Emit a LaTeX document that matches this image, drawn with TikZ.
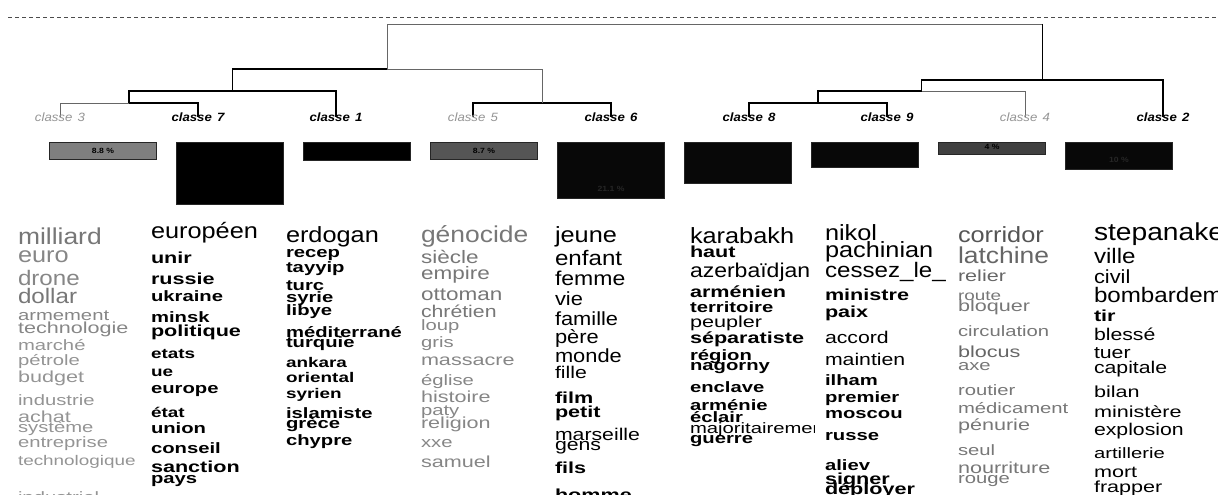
\documentclass[tikz,border=0pt]{standalone}
\usepackage{fontspec}
\setmainfont{Liberation Sans}
\usepackage{graphicx}
\definecolor{kk}{HTML}{000000}
\definecolor{ga}{HTML}{555555}
\definecolor{gb}{HTML}{666666}
\definecolor{gc}{HTML}{777777}
\definecolor{gd}{HTML}{868686}
\definecolor{ge}{HTML}{949494}
\definecolor{bar3}{HTML}{7F7F7F}
\definecolor{bar5}{HTML}{555555}
\definecolor{bar4}{HTML}{404040}
\definecolor{bardark}{HTML}{080808}
\newcommand{\Wrd}[3]{%
  \ifdim#1pt>18.5pt\def\sx{1.15}\else\ifdim#1pt>16.5pt\def\sx{1.25}\else\def\sx{1.35}\fi\fi
  \scalebox{\sx}[1]{\fontsize{#1}{#1}\selectfont\ifnum#2=1 \bfseries\fi #3}}
\newcommand{\Lab}[1]{\scalebox{1.1}[1]{\fontsize{12}{12}\selectfont\itshape #1}}
\newcommand{\Pct}[1]{\scalebox{1.15}[1]{\fontsize{7.5}{7.5}\selectfont\bfseries #1}}
\newcommand{\wcol}[4]{%
  \begin{scope}
    \clip (#2-6,-215) rectangle (#2+#3,-500);
    \foreach \t/\s/\f/\c/\y [count=\i] in {#4} {
      \node[word, text=\c] (#1\i) at (#2,-\y) {\Wrd{\s}{\f}{\t}};
    }
  \end{scope}}
\begin{document}
\begin{tikzpicture}[x=1pt,y=1pt,
  word/.style={anchor=base west, inner sep=0pt, outer sep=0pt},
  tree/.style={line width=1.2pt, black},
  treeg/.style={line width=0.8pt, black!60},
  dashline/.style={line width=0.8pt, black!70, dash pattern=on 4pt off 3pt},
  labk/.style={anchor=base, inner sep=0pt, text=black},
  labg/.style={anchor=base, inner sep=0pt, text=ge},
  barbox/.style={anchor=north, draw=black!85, line width=1pt, minimum width=107pt, inner sep=0pt},
  pct/.style={inner sep=0pt}]
\useasboundingbox (0,0) rectangle (1218,-495);
% dashed top line
\coordinate (dl) at (8,-17);
\coordinate (dr) at (1218,-17);
\draw[dashline] (dl) -- (dr);
% dendrogram
\coordinate (l3) at (60,-117);
\coordinate (l7) at (198,-117);
\coordinate (l1) at (336,-117);
\coordinate (l5) at (473,-117);
\coordinate (l6) at (611,-117);
\coordinate (l8) at (749,-117);
\coordinate (l9) at (887,-117);
\coordinate (l4) at (1025,-117);
\coordinate (l2) at (1163,-117);
\coordinate (nA) at (129,-103);
\coordinate (nB) at (232.5,-91);
\coordinate (nC) at (542,-103);
\coordinate (nD) at (387.25,-69);
\coordinate (nE) at (818,-103);
\coordinate (nF) at (921.5,-91);
\coordinate (nG) at (1042.25,-80);
\coordinate (nR) at (714.75,-24);
\coordinate (nRr) at (1042.25,-24);
\draw[treeg] (nA) -| (l3);
\draw[tree] (nA) -| (l7);
\draw[tree] (nB) -| (nA);
\draw[tree] (nB) -| (l1);
\draw[tree] (nC) -| (l5);
\draw[tree] (nC) -| (l6);
\draw[tree] (nD) -| (nB);
\draw[treeg] (nD) -| (nC);
\draw[tree] (nE) -| (l8);
\draw[tree] (nE) -| (l9);
\draw[tree] (nF) -| (nE);
\draw[treeg] (nF) -| (l4);
\draw[tree] (nG) -| (nF);
\draw[tree] (nG) -| (l2);
\draw[treeg] (nR) -| (nD);
\draw[treeg] (nR) -- (nRr);
\draw[tree] (nRr) -- (nG);
% class labels
\node[labg] (k3) at (60,-121.5) {\Lab{classe\hspace{0.4em}3}};
\node[labk] (k7) at (198,-121.5) {\Lab{\bfseries classe\hspace{0.4em}7}};
\node[labk] (k1) at (336,-121.5) {\Lab{\bfseries classe\hspace{0.4em}1}};
\node[labg] (k5) at (473,-121.5) {\Lab{classe\hspace{0.4em}5}};
\node[labk] (k6) at (611,-121.5) {\Lab{\bfseries classe\hspace{0.4em}6}};
\node[labk] (k8) at (749,-121.5) {\Lab{\bfseries classe\hspace{0.4em}8}};
\node[labk] (k9) at (887,-121.5) {\Lab{\bfseries classe\hspace{0.4em}9}};
\node[labg] (k4) at (1025,-121.5) {\Lab{classe\hspace{0.4em}4}};
\node[labk] (k2) at (1163,-121.5) {\Lab{\bfseries classe\hspace{0.4em}2}};
% bars
\node[barbox, fill=bar3, minimum height=16.7pt] (b3) at (103,-142.3) {};
\node[barbox, fill=black, minimum height=62pt] (b7) at (230,-142.3) {};
\node[barbox, fill=black, minimum height=17.7pt] (b1) at (357,-142.3) {};
\node[barbox, fill=bar5, minimum height=16.7pt] (b5) at (484,-142.3) {};
\node[barbox, fill=bardark, minimum height=56pt] (b6) at (611,-142.3) {};
\node[barbox, fill=bardark, minimum height=41pt] (b8) at (738,-142.3) {};
\node[barbox, fill=bardark, minimum height=24.4pt] (b9) at (865,-142.3) {};
\node[barbox, fill=bar4, minimum height=12pt] (b4) at (992,-142.3) {};
\node[barbox, fill=bardark, minimum height=27pt] (b2) at (1119,-142.3) {};
\node[pct] (p3) at (103,-150.6) {\Pct{8.8 \%}};
\node[pct] (p5) at (484,-150.6) {\Pct{8.7 \%}};
\node[pct] (p4) at (992,-147.2) {\Pct{4 \%}};
\node[pct, text=black!85] (p6) at (611,-189) {\Pct{21.1 \%}};
\node[pct, text=black!85] (p2) at (1119,-160) {\Pct{10 \%}};
% word columns
\wcol{wa}{18}{124}{milliard/23/0/gc/244, euro/22/0/gd/262, drone/21/0/gd/285, dollar/21/0/gc/303, armement/15/0/gd/320, technologie/16/0/gd/333, marché/15/0/ge/350, pétrole/15/0/ge/365, budget/16/0/ge/382, industrie/15/0/ge/405, achat/16/0/ge/422, système/15/0/ge/432, entreprise/15/0/ge/447, technologique/14/0/ge/465, industriel/15/0/ge/502}
\wcol{wb}{151}{124}{européen/22/0/kk/238, unir/16/1/kk/263, russie/16/1/kk/284, ukraine/15/1/kk/301, minsk/15/1/kk/322, politique/16/1/kk/336, etats/14/1/kk/358, ue/14/1/kk/376, europe/15/1/kk/393, état/14/1/kk/417, union/15/1/kk/433, conseil/15/1/kk/453, sanction/16/1/kk/472, pays/15/1/kk/483}
\wcol{wc}{286}{124}{erdogan/22/0/kk/242, recep/15/1/kk/257, tayyip/15/1/kk/272, turc/15/1/kk/290, syrie/15/1/kk/302, libye/15/1/kk/315, méditerrané/15/1/kk/337, turquie/15/1/kk/347, ankara/14/1/kk/367, oriental/14/1/kk/382, syrien/14/1/kk/398, islamiste/15/1/kk/418, grèce/15/1/kk/428, chypre/15/1/kk/445}
\wcol{wd}{421}{124}{génocide/23/0/gc/242, siècle/18/0/gc/263, empire/18/0/gc/279, ottoman/18/0/gc/300, chrétien/17/0/gc/317, loup/15/0/gd/330, gris/15/0/gd/347, massacre/16/0/gd/365, église/15/0/gd/385, histoire/16/0/gd/402, paty/15/0/gd/415, religion/16/0/gd/428, xxe/15/0/gd/447, samuel/16/0/gd/467}
\wcol{we}{555}{124}{jeune/22/0/kk/242, enfant/21/0/kk/265, femme/20/0/kk/285, vie/19/0/kk/305, famille/19/0/kk/325, père/19/0/kk/343, monde/19/0/kk/362, fille/17/0/kk/378, film/16/1/kk/403, petit/16/1/kk/417, marseille/17/0/kk/440, gens/17/0/kk/450, fils/16/1/kk/473, homme/16/1/kk/500}
\wcol{wf}{690}{124}{karabakh/22/0/kk/243, haut/16/1/kk/257, azerbaïdjan/20/0/kk/277, arménien/16/1/kk/297, territoire/15/1/kk/312, peupler/16/0/kk/327, séparatiste/16/1/kk/343, région/15/1/kk/360, nagorny/15/1/kk/370, enclave/15/1/kk/392, arménie/15/1/kk/410, éclair/15/1/kk/422, majoritairement/15/0/kk/433, guerre/15/1/kk/443}
\wcol{wg}{825}{120}{nikol/22/0/kk/240, pachinian/22/0/kk/257, cessez\_le\_feu/21/0/kk/277, ministre/16/1/kk/300, paix/16/1/kk/317, accord/17/0/kk/343, maintien/17/0/kk/365, ilham/15/1/kk/385, premier/15/1/kk/402, moscou/15/1/kk/418, russe/15/1/kk/440, aliev/15/1/kk/470, signer/16/1/kk/484, déployer/16/1/kk/494}
\wcol{wh}{958}{124}{corridor/22/0/ga/242, latchine/23/0/gb/263, relier/16/0/gb/281, route/14/0/gc/300, bloquer/16/0/gc/311, circulation/15/0/gc/336, blocus/16/0/gb/357, axe/15/0/gc/370, routier/15/0/gc/395, médicament/15/0/gc/413, pénurie/16/0/gc/430, seul/15/0/gc/455, nourriture/16/0/gc/473, rouge/15/0/gc/483}
\wcol{wi}{1094}{124}{stepanakert/24.5/0/kk/240, ville/21/0/kk/263, civil/19/0/kk/283, bombardement/21/0/kk/302, tir/16/1/kk/321, blessé/17/0/kk/340, tuer/17/0/kk/358, capitale/17/0/kk/373, bilan/16/0/kk/397, ministère/16/0/kk/417, explosion/17/0/kk/435, artillerie/15/0/kk/458, mort/16/0/kk/477, frapper/16/0/kk/492}
\end{tikzpicture}
\end{document}
